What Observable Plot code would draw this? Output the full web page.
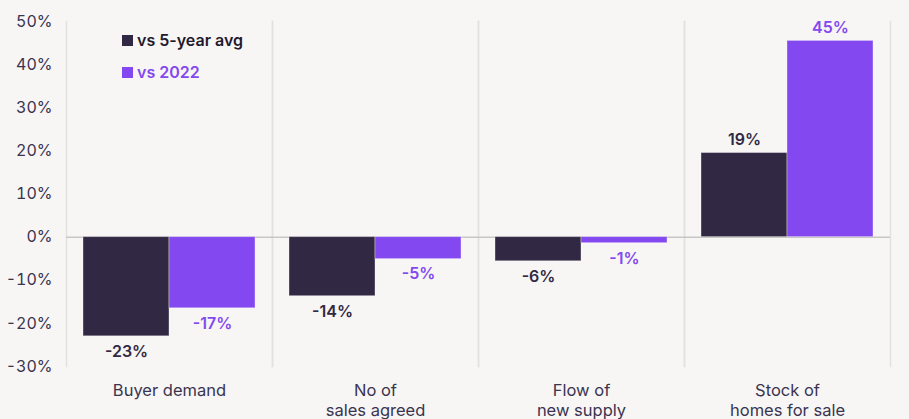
<!DOCTYPE html>
<html>
<head>
<meta charset="utf-8">
<script src="https://cdn.jsdelivr.net/npm/d3@7"></script>
<script src="https://cdn.jsdelivr.net/npm/@observablehq/plot@0.6"></script>
<style>
  html, body { margin: 0; padding: 0; background: #f7f6f4; }
  #wrap { position: relative; width: 909px; height: 419px; overflow: hidden; }
  .legend { position: absolute; left: 122px; top: 29px; font-family: Inter, "Noto Sans", sans-serif; font-size: 16px; font-weight: 600; }
  .legend div { display: flex; align-items: center; height: 22px; margin-bottom: 10px; }
  .legend span.sw { display: inline-block; width: 11px; height: 11px; margin-right: 4px; }
</style>
</head>
<body>
<div id="wrap"></div>
<script>
const categories = ["Buyer demand", "No of\nsales agreed", "Flow of\nnew supply", "Stock of\nhomes for sale"];
const series = ["vs 5-year avg", "vs 2022"];
const vs5yr = [-23, -13.7, -5.6, 19.5];
const vs2022 = [-16.5, -5.1, -1.4, 45.5];
const labels5yr = ["-23%", "-14%", "-6%", "19%"];
const labels2022 = ["-17%", "-5%", "-1%", "45%"];
const yTicks = [-30, -20, -10, 0, 10, 20, 30, 40, 50];
const colors = ["#312843", "#8348f0"];

const data = [];
categories.forEach((c, i) => {
  data.push({cat: c, series: series[0], value: vs5yr[i], label: labels5yr[i]});
  data.push({cat: c, series: series[1], value: vs2022[i], label: labels2022[i]});
});

const font = "Inter, 'Noto Sans', sans-serif";
const chart = Plot.plot({
  width: 909,
  height: 419,
  marginLeft: 64,
  marginRight: 18,
  marginTop: 21,
  marginBottom: 53,
  style: {background: "#f7f6f4", fontFamily: font, fontSize: "16px", color: "#3a3450"},
  fx: {domain: categories, padding: 0, label: null, axis: null},
  x: {domain: series, paddingInner: 0, paddingOuter: 0.19, axis: null},
  y: {domain: [-30, 50], ticks: yTicks, tickFormat: d => d + "%", label: null, tickSize: 0, tickPadding: 14},
  color: {domain: series, range: colors},
  marks: [
    Plot.frame({anchor: "left", stroke: "#e3e1de", strokeWidth: 1.5}),
    Plot.frame({anchor: "right", stroke: "#e3e1de", strokeWidth: 1.5}),
    Plot.axisFx({anchor: "bottom", tickSize: 0, tickPadding: 15, label: null, fontSize: 16.5, lineHeight: 1.22, fill: "#3a3450"}),
    Plot.ruleY([0], {stroke: "#c9c7c4", strokeWidth: 1.5}),
    Plot.barY(data, {fx: "cat", x: "series", y: "value", fill: "series", stroke: "#ffffff", strokeOpacity: 0.35, strokeWidth: 1}),
    Plot.text(data.filter(d => d.value >= 0), {fx: "cat", x: "series", y: "value", text: "label", fill: "series", lineAnchor: "bottom", dy: -8, fontWeight: 600, fontSize: 16}),
    Plot.text(data.filter(d => d.value < 0), {fx: "cat", x: "series", y: "value", text: "label", fill: "series", lineAnchor: "top", dy: 9, fontWeight: 600, fontSize: 16})
  ]
});
const wrap = document.getElementById("wrap");
wrap.appendChild(chart);
const legend = document.createElement("div");
legend.className = "legend";
series.forEach((s, i) => {
  const row = document.createElement("div");
  row.style.color = i === 0 ? "#1f1a2e" : colors[1];
  row.innerHTML = `<span class="sw" style="background:${colors[i]}"></span>${s}`;
  legend.appendChild(row);
});
wrap.appendChild(legend);
</script>
</body>
</html>
